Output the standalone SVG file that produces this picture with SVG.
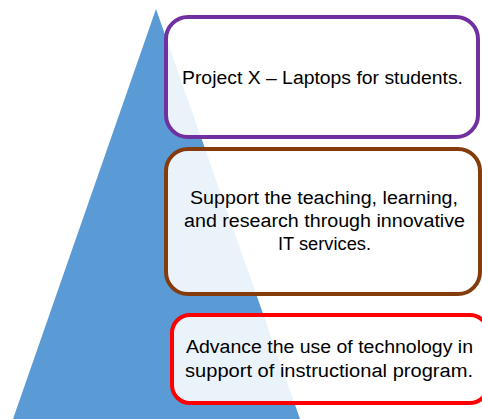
<svg xmlns="http://www.w3.org/2000/svg" width="482" height="419" viewBox="0 0 482 419">
<style>
.box{fill:#fff;fill-opacity:0.88;stroke-width:4}
.t{font-family:"Liberation Sans",Arial,sans-serif;font-size:18px;fill:#000;text-anchor:middle}
</style>
<rect width="482" height="419" fill="#fff"/>
<g id="pyramid"><polygon points="156,9 300,419 13,419" fill="#5B9BD5"/></g>
<g id="connectors"></g>
<g id="box1">
<rect class="box" x="166" y="17" width="312" height="120" rx="22" stroke="#7030A0"/>
<text class="t" x="322.5" y="84" textLength="281" lengthAdjust="spacingAndGlyphs">Project X – Laptops for students.</text>
</g>
<g id="box2">
<rect class="box" x="166" y="149" width="314" height="145" rx="22" stroke="#843C0C"/>
<text class="t" x="324" y="204" textLength="268" lengthAdjust="spacingAndGlyphs">Support the teaching, learning,</text>
<text class="t" x="324.5" y="227" textLength="281" lengthAdjust="spacingAndGlyphs">and research through innovative</text>
<text class="t" x="324.5" y="250" textLength="93" lengthAdjust="spacingAndGlyphs">IT services.</text>
</g>
<g id="box3">
<rect class="box" x="172" y="315" width="316" height="88" rx="18" stroke="#FF0000"/>
<text class="t" x="329.5" y="353" textLength="287" lengthAdjust="spacingAndGlyphs">Advance the use of technology in</text>
<text class="t" x="329" y="377" textLength="288" lengthAdjust="spacingAndGlyphs">support of instructional program.</text>
</g>
</svg>
